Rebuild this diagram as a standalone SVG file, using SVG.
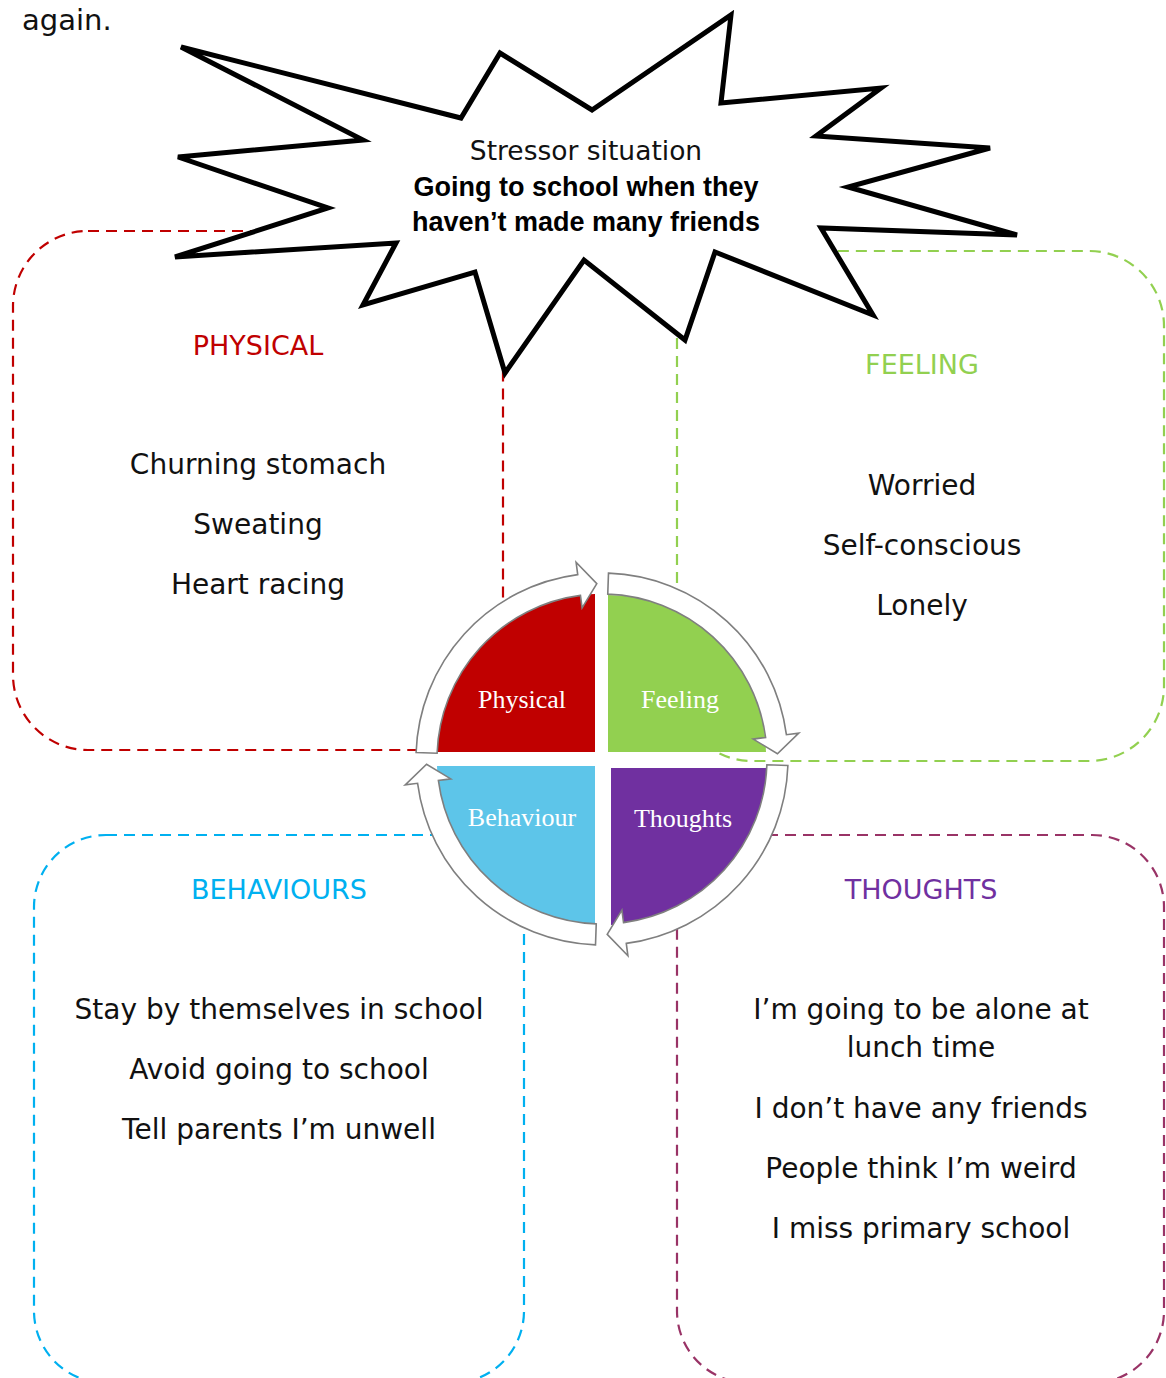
<svg xmlns="http://www.w3.org/2000/svg" xmlns:xlink="http://www.w3.org/1999/xlink" width="1166" height="1378" viewBox="0 0 1166 1378">
<style>
.box{fill:none;stroke-width:2.2;stroke-dasharray:11 7}
.body{font-family:"DejaVu Sans","Liberation Sans",sans-serif;font-size:28px;fill:#111;text-anchor:middle}
.title{font-family:"DejaVu Sans","Liberation Sans",sans-serif;font-size:27px;text-anchor:middle}
.quad{font-family:"Liberation Serif","DejaVu Serif",serif;font-size:26px;fill:#fff;text-anchor:middle}
.arrow{fill:#fff;stroke:#7f7f7f;stroke-width:1.6;stroke-linejoin:miter}
</style>
<defs>
<path id="cyc" class="arrow" d="M 416.11 752.51 A 186 186 0 0 1 577.72 574.59 L 576.09 562.20 L 596.79 583.58 L 582.09 607.81 L 580.46 595.41 A 165 165 0 0 0 437.10 753.24 Z"/>
</defs>
<rect width="1166" height="1378" fill="#fff"/>
<text x="22" y="30" class="body" style="text-anchor:start;font-size:29px">again.</text>

<g id="physical">
<rect class="box" x="13" y="231" width="490" height="519" rx="75" stroke="#C00000"/>
<text x="258" y="355" class="title" fill="#C00000">PHYSICAL</text>
<text x="258" y="474" class="body">Churning stomach</text>
<text x="258" y="534" class="body">Sweating</text>
<text x="258" y="594" class="body">Heart racing</text>
</g>

<g id="feeling">
<path class="box" stroke="#92D050" d="M 677 338 L 677 686 A 75 75 0 0 0 752 761 L 1089 761 A 75 75 0 0 0 1164 686 L 1164 326 A 75 75 0 0 0 1089 251 L 760 251"/>
<text x="922" y="374" class="title" fill="#92D050">FEELING</text>
<text x="922" y="495" class="body">Worried</text>
<text x="922" y="555" class="body">Self-conscious</text>
<text x="922" y="615" class="body">Lonely</text>
</g>

<g id="behaviours">
<rect class="box" x="34" y="835" width="490" height="548" rx="72" stroke="#00B0F0"/>
<text x="279" y="899" class="title" fill="#00B0F0">BEHAVIOURS</text>
<text x="279" y="1019" class="body">Stay by themselves in school</text>
<text x="279" y="1079" class="body">Avoid going to school</text>
<text x="279" y="1139" class="body">Tell parents I’m unwell</text>
</g>

<g id="thoughts">
<rect class="box" x="677" y="835" width="487" height="548" rx="72" stroke="#993366"/>
<text x="921" y="899" class="title" fill="#7030A0">THOUGHTS</text>
<text x="921" y="1019" class="body">I’m going to be alone at</text>
<text x="921" y="1057" class="body">lunch time</text>
<text x="921" y="1118" class="body">I don’t have any friends</text>
<text x="921" y="1178" class="body">People think I’m weird</text>
<text x="921" y="1238" class="body">I miss primary school</text>
</g>

<g id="stressor">
<polygon points="181,47 461,118 500,53 592,110 731,15 721,103 881,88 816,136 990,148 848,187 1017,235 821,228 873,315 715,252 685,340 584,260 505,373 475,272 363,305 396,243 175,257 328,208 178,157 363,140" fill="#fff" stroke="#000" stroke-width="5" stroke-linejoin="miter" stroke-miterlimit="4"/>
<text x="586" y="160" style="font-family:'DejaVu Sans','Liberation Sans',sans-serif;font-size:26.5px;text-anchor:middle;fill:#111">Stressor situation</text>
<text x="586" y="196" style="font-family:'Liberation Sans',sans-serif;font-weight:bold;font-size:27px;text-anchor:middle;fill:#000">Going to school when they</text>
<text x="586" y="231" style="font-family:'Liberation Sans',sans-serif;font-weight:bold;font-size:27px;text-anchor:middle;fill:#000">haven’t made many friends</text>
</g>

<g id="cycle-physical">
<path d="M 595 752 L 437 752 A 158 158 0 0 1 595 594 Z" fill="#C00000"/>
<text x="522" y="708" class="quad">Physical</text>
</g>
<g id="cycle-feeling">
<path d="M 608 752 L 608 595 A 158 158 0 0 1 766 752 Z" fill="#92D050"/>
<text x="680" y="708" class="quad">Feeling</text>
</g>
<g id="cycle-behaviour">
<path d="M 595 766 L 437 766 A 158 158 0 0 0 595 924 Z" fill="#5DC5E9"/>
<text x="522" y="826" class="quad">Behaviour</text>
</g>
<g id="cycle-thoughts">
<path d="M 611 768 L 768 768 A 157 157 0 0 1 611 925 Z" fill="#7030A0"/>
<text x="683" y="827" class="quad">Thoughts</text>
</g>

<g id="connectors">
<use xlink:href="#cyc"/>
<use xlink:href="#cyc" transform="rotate(90 602 759)"/>
<use xlink:href="#cyc" transform="rotate(180 602 759)"/>
<use xlink:href="#cyc" transform="rotate(270 602 759)"/>
</g>
</svg>
